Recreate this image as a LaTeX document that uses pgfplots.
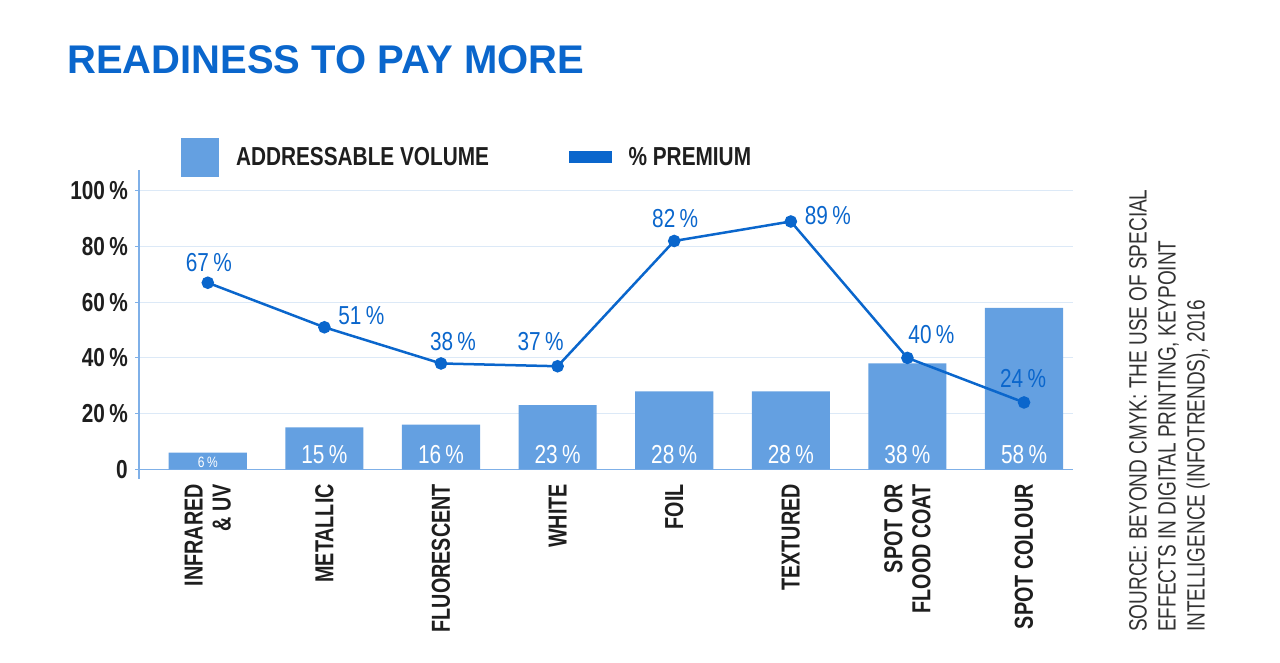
\documentclass[border=0pt]{standalone}
\usepackage{fontspec}
\setmainfont{Liberation Sans}
\newfontfamily\cond[FakeStretch=0.8]{Liberation Sans}
\newfontfamily\condx[FakeStretch=0.76]{Liberation Sans}
\usepackage{pgfplots}
\pgfplotsset{compat=1.18}
\usepackage{pgfplotstable}

\definecolor{barblue}{HTML}{64A0E1}
\definecolor{lineblue}{HTML}{0A66CC}
\definecolor{titleblue}{HTML}{0A66CC}
\definecolor{gridblue}{HTML}{DCE9F7}
\definecolor{axisblue}{HTML}{7FB0E8}
\definecolor{darktext}{HTML}{1E1E1E}
\definecolor{srctext}{HTML}{333333}

% addressable volume (bars)
\pgfplotstableread{
x vol zero
0 6  0
1 15 0
2 16 0
3 23 0
4 28 0
5 28 0
6 38 0
7 58 0
}\volume

% premium (line), label offsets in pt
\pgfplotstableread{
x prem dx dy
0 67 1 11
1 51 37 3
2 38 12 13
3 37 -17 16
4 82 1 13
5 89 37 -3
6 40 24 14
7 24 -1 15
}\premium

\begin{document}
\begin{tikzpicture}
\path[use as bounding box] (0,0) rectangle (1280pt,663pt);

\node[anchor=base west, inner sep=0pt, text=titleblue,
      font=\bfseries\fontsize{40}{40}\selectfont] at (67pt,589pt) {READINESS TO PAY MORE};

\node[anchor=north west, inner sep=0pt, rotate=90, align=left, text=srctext,
      font=\condx\fontsize{25}{29}\selectfont] at (1129pt,31pt)
  {SOURCE: BEYOND CMYK: THE USE OF SPECIAL\\EFFECTS IN DIGITAL PRINTING, KEYPOINT\\INTELLIGENCE (INFOTRENDS), 2016};

\begin{axis}[
  at={(139pt,184pt)}, anchor=south west,
  scale only axis, width=934pt, height=309pt,
  xmin=-0.59, xmax=7.42, ymin=-3.5, ymax=107.5,
  /pgf/number format/assume math mode=true,
  axis x line=bottom, axis y line=left,
  axis line style={-},
  x axis line style={draw=none},
  y axis line style={draw=axisblue, line width=1.2pt},
  xtick={0,...,7},
  xticklabels={{INFRARED\\\& UV},METALLIC,FLUORESCENT,WHITE,FOIL,TEXTURED,{SPOT OR\\FLOOD COAT},SPOT COLOUR},
  xtick style={draw=none},
  x tick label style={rotate=90, anchor=east, align=right, inner sep=1pt,
      text=darktext, font=\condx\bfseries\fontsize{26}{28}\selectfont},
  ytick={0,20,...,100},
  yticklabels={0,20\,\%,40\,\%,60\,\%,80\,\%,100\,\%},
  y tick label style={inner sep=0pt, xshift=-7pt, text=darktext,
      font=\cond\bfseries\fontsize{26}{28}\selectfont},
  ytick style={draw=axisblue, line width=1.2pt},
  tick align=outside, major tick length=4pt,
  ymajorgrids, grid style={gridblue, line width=1.2pt},
  extra y ticks={0}, extra y tick labels={},
  extra y tick style={grid style={axisblue, line width=1.5pt}},
  legend style={at={(0.045,1.042)}, anchor=west, draw=none, fill=none,
      inner sep=0pt, outer sep=0pt, legend columns=2,
      nodes={inner sep=0pt, text=darktext, font=\cond\bfseries\fontsize{26}{28}\selectfont},
      /tikz/every odd column/.append style={column sep=17pt},
      /tikz/every even column/.append style={column sep=80pt}},
  legend cell align=left,
]
\addplot[ybar, bar width=0.67, fill=barblue, draw=none,
  legend image code/.code={\fill[barblue] (0pt,-19.5pt) rectangle (38pt,19.5pt);}]
  table[x=x, y=vol] {\volume};
\addlegendentry{ADDRESSABLE VOLUME}

% value labels at the foot of the bars: the small first one, then the rest
\addplot[draw=none, forget plot, skip coords between index={1}{8},
  point meta=\thisrow{vol},
  nodes near coords={\pgfmathprintnumber{\pgfplotspointmeta}\,\%},
  every node near coord/.append style={anchor=base, inner sep=0pt, yshift=2pt,
      text=white, font=\cond\fontsize{15}{15}\selectfont}]
  table[x=x, y=zero] {\volume};
\addplot[draw=none, forget plot, skip coords between index={0}{1},
  point meta=\thisrow{vol},
  nodes near coords={\pgfmathprintnumber{\pgfplotspointmeta}\,\%},
  every node near coord/.append style={anchor=base, inner sep=0pt, yshift=6pt,
      text=white, font=\cond\fontsize{26}{26}\selectfont}]
  table[x=x, y=zero] {\volume};

\addplot[color=lineblue, line width=2.5pt, mark=*, mark size=5pt,
  legend image code/.code={\fill[lineblue] (0pt,-4.5pt) rectangle (40pt,4.5pt);},
  visualization depends on={\thisrow{dx} \as \lblx},
  visualization depends on={\thisrow{dy} \as \lbly},
  nodes near coords={\pgfmathprintnumber{\pgfplotspointmeta}\,\%},
  every node near coord/.append style={anchor=base, inner sep=0pt,
      xshift=\lblx pt, yshift=\lbly pt,
      text=lineblue, font=\cond\fontsize{26}{26}\selectfont}]
  table[x=x, y=prem] {\premium};
\addlegendentry{\% PREMIUM}
\end{axis}
\end{tikzpicture}
\end{document}
